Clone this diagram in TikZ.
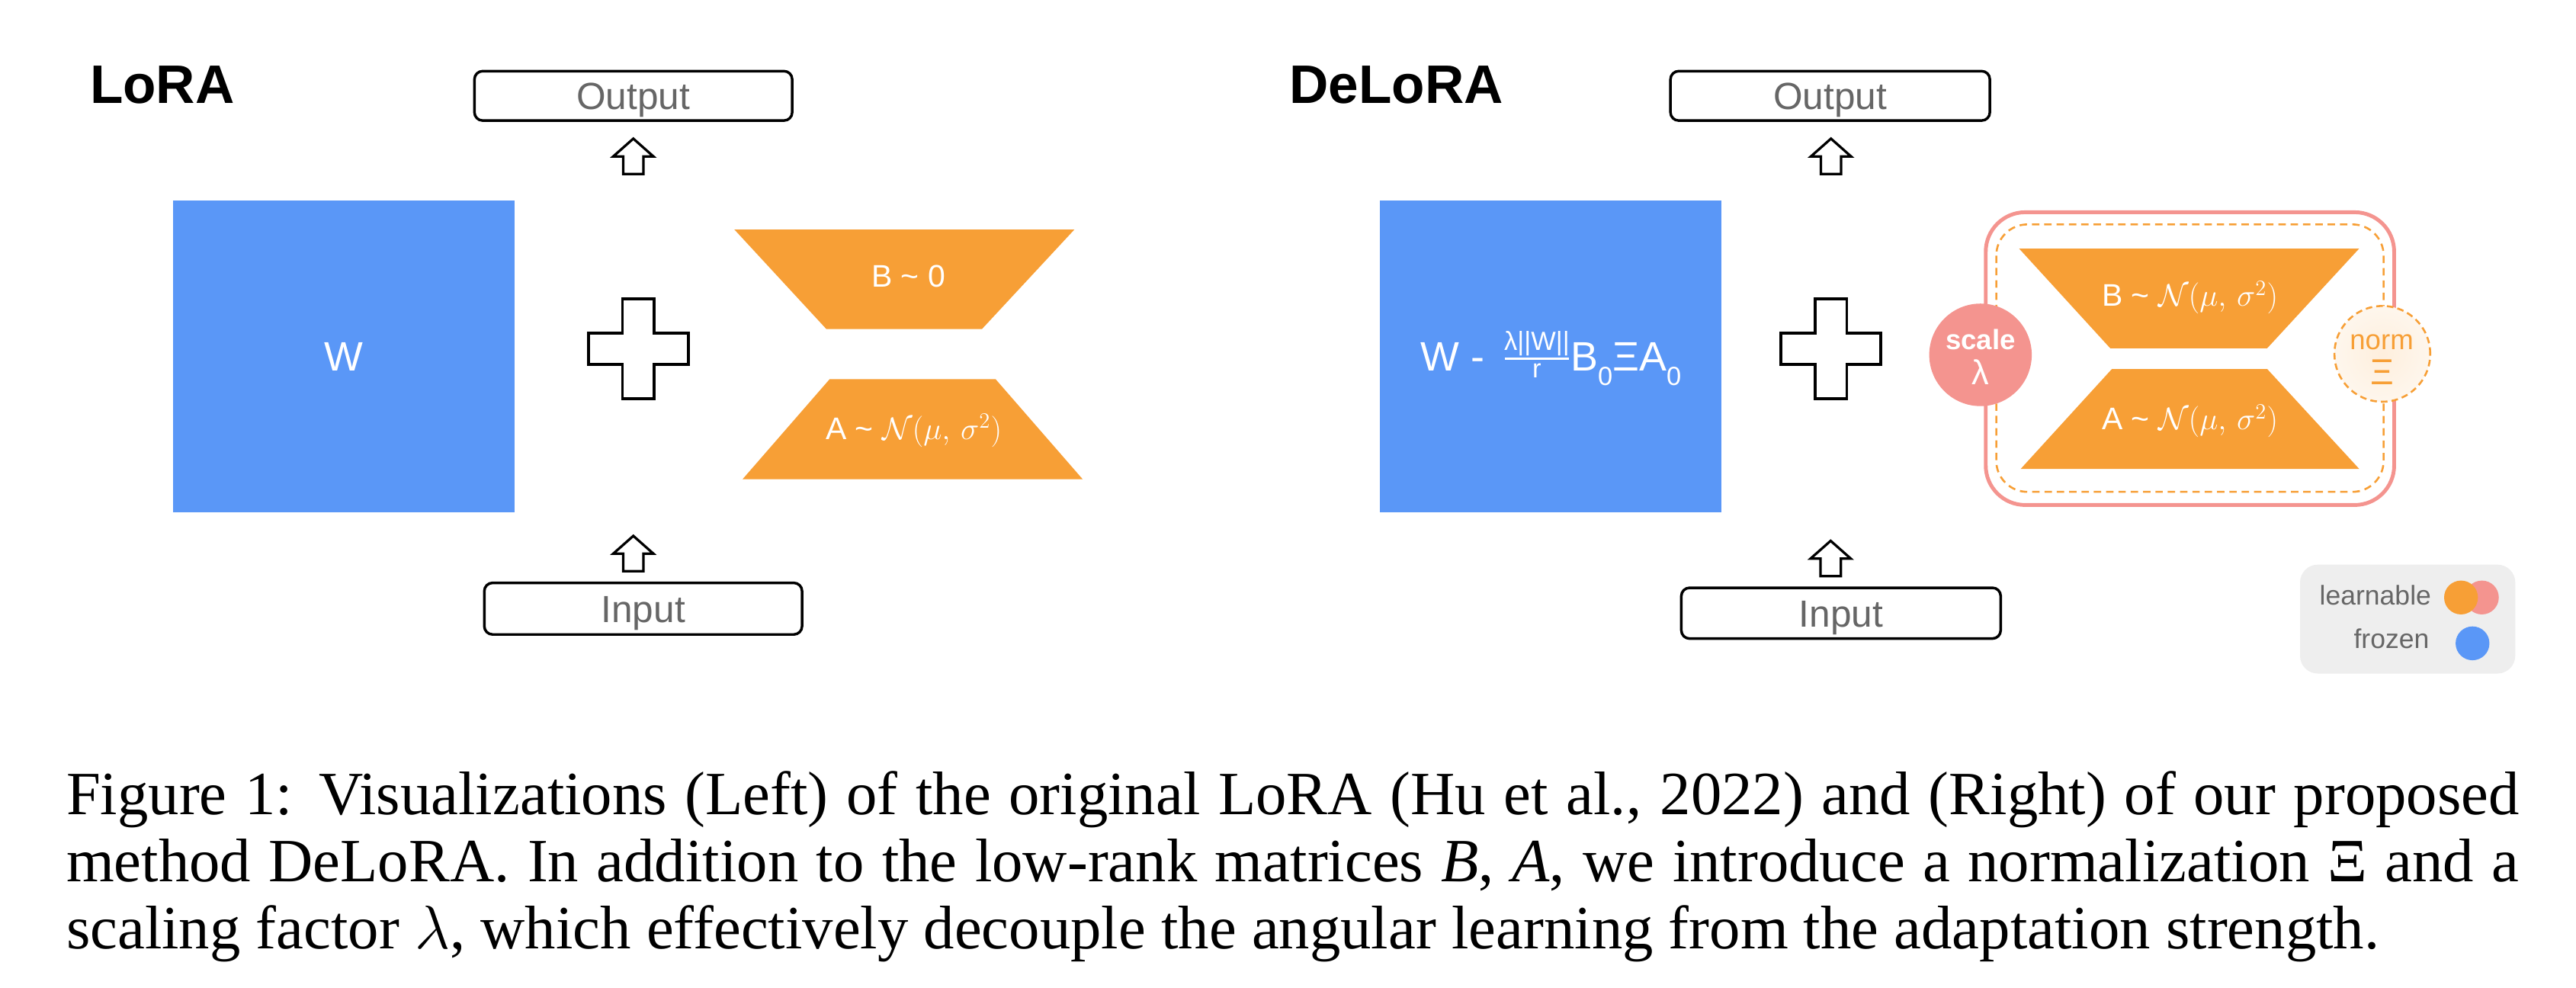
\RequirePackage{fix-cm}
\documentclass[tikz,border=0pt]{standalone}
\usepackage{fontspec}
\setmainfont{Liberation Serif}
\setsansfont{Liberation Sans}
\usetikzlibrary{calc}
\definecolor{wblue}{HTML}{5A97F7}
\definecolor{lorange}{HTML}{F79F36}
\definecolor{lpink}{HTML}{F4948F}
\definecolor{txtgray}{HTML}{666666}
\definecolor{leggray}{HTML}{EEEEEE}
\colorlet{glowA}{lorange!17!white}
\colorlet{glowB}{lorange!8!white}
\pgfdeclareradialshading{normglow}{\pgfpoint{0bp}{0bp}}{color(0bp)=(glowA); color(28bp)=(glowB); color(46bp)=(white); color(50bp)=(white)}
\newcommand\fsz[1]{\fontsize{#1}{#1}\selectfont}
\newcommand\mysub{\raisebox{-8.8pt}{\fsz{16}0}}
\begin{document}
\begin{tikzpicture}[x=1pt,y=-1pt,
  iobox/.style={draw=black, line width=1.6pt, rounded corners=5pt, fill=white, inner sep=0pt,
    text=txtgray, font=\sffamily\fsz{23}, text height=16.5pt, text depth=0pt},
  mat/.style={fill=wblue, inner sep=0pt, text=white, font=\sffamily\fsz{25}, text height=17.9pt, text depth=0pt},
  lbl/.style={inner sep=0pt, text=white, font=\sffamily\fsz{19}, text height=13.6pt, text depth=0pt},
  title/.style={inner sep=0pt, anchor=base west, font=\sffamily\bfseries\fsz{33}},
  trap/.style={fill=lorange},
  legtxt/.style={inner sep=0pt, anchor=base east, text=txtgray, font=\sffamily\fsz{16.5}},
  captxt/.style={inner sep=0pt, anchor=base west, font=\rmfamily\fsz{37.45}},
  dot/.style={circle, inner sep=0pt, minimum size=20.6pt},
  uparr/.pic={\draw[line width=1.5pt, fill=white, line join=miter]
     (0,0) -- (12.2,10.8) -- (6.2,10.8) -- (6.2,21.5) -- (-6.2,21.5) -- (-6.2,10.8) -- (-12.2,10.8) -- cycle;},
  plus/.pic={\draw[line width=1.8pt, fill=white, line join=miter]
     (-9.6,-30.4) -- (9.6,-30.4) -- (9.6,-9.6) -- (30.4,-9.6) -- (30.4,9.6) -- (9.6,9.6) -- (9.6,30.4)
     -- (-9.6,30.4) -- (-9.6,9.6) -- (-30.4,9.6) -- (-30.4,-9.6) -- (-9.6,-9.6) -- cycle;}
]
\useasboundingbox (0,0) rectangle (1568,601);

% ---------------- LoRA (left) ----------------
\node[title] (tL) at (54.6,62.7) {LoRA};
\node[iobox, minimum width=193.4pt, minimum height=30.1pt] (outL) at (385.5,58.35) {Output};
\node[mat, minimum width=207.5pt, minimum height=190pt] (WL) at (209.25,217) {W};
\node[iobox, minimum width=193.4pt, minimum height=31.4pt] (inL) at (391.5,370.5) {Input};
\pic at ($(outL.south)+(0,10.2)$) {uparr};
\pic at ($(inL.north)+(-6,-27.8)$) {uparr};
\pic at (388.5,212.3) {plus};
\fill[trap] (447,139.7) -- (654,139.7) -- (597.7,200.3) -- (503,200.3) -- cycle;
\fill[trap] (505,230.8) -- (606,230.8) -- (659,291.7) -- (452,291.7) -- cycle;
\node[lbl] (bL) at (553,168) {B \textasciitilde{} 0};
\node[lbl] (aL) at (556.2,260.6) {A \textasciitilde{} $\mathcal{N}(\mu,\,\sigma^2)$};

% ---------------- DeLoRA (right) ----------------
\node[title] (tR) at (784.6,62.7) {DeLoRA};
\node[iobox, minimum width=194.4pt, minimum height=30.1pt] (outR) at (1114,58.35) {Output};
\node[mat, minimum width=208pt, minimum height=190pt] (WR) at (944,217)
  {W - \hspace{5.5pt}{\fsz{16}\makebox[0pt][l]{\raisebox{12.8pt}{\makebox[39pt][c]{λ||W||}}}\makebox[0pt][l]{\raisebox{7.1pt}{\rule{39pt}{1pt}}}\makebox[39pt][c]{\raisebox{-4.1pt}{r}}}\hspace{1pt}B\mysub ΞA\mysub};
\node[iobox, minimum width=194.4pt, minimum height=30.9pt] (inR) at (1120.6,373.25) {Input};
\pic at ($(outR.south)+(0.5,10.2)$) {uparr};
\pic at ($(inR.north)+(-6.3,-27.8)$) {uparr};
\pic at (1114.5,212.2) {plus};

\draw[lpink, line width=2.3pt, rounded corners=24pt] (1208.7,129.2) rectangle (1457.3,307.4);
\draw[lorange, line width=1.2pt, dash pattern=on 4.5pt off 3pt, rounded corners=19pt] (1215.1,136.6) rectangle (1450.9,299.4);
\fill[trap] (1229,151.3) -- (1436,151.3) -- (1380,212) -- (1284.5,212) -- cycle;
\fill[trap] (1285.5,224.6) -- (1380,224.6) -- (1436,285.4) -- (1230,285.4) -- cycle;
\node[lbl] (bR) at (1333,179.7) {B \textasciitilde{} $\mathcal{N}(\mu,\,\sigma^2)$};
\node[lbl] (aR) at (1333,254.9) {A \textasciitilde{} $\mathcal{N}(\mu,\,\sigma^2)$};

\node[circle, fill=lpink, minimum size=62.4pt, inner sep=0pt] (scl) at (1205.5,216) {};
\node[inner sep=0pt, anchor=base, text=white, font=\sffamily\bfseries\fsz{17}] (sclt) at (1205.5,212.7) {scale};
\node[inner sep=0pt, anchor=base, text=white, font=\sffamily\fsz{21}] (lam) at (1205.3,234.3) {λ};

\node[circle, draw=lorange, line width=1.2pt, dash pattern=on 4pt off 2.5pt, shade, shading=normglow,
  minimum size=58.3pt, inner sep=0pt] (nrm) at (1450.1,215.4) {};
\node[inner sep=0pt, anchor=base, text=lorange, font=\sffamily\fsz{17}] (nrmt) at (1449.7,212.7) {norm};
\node[inner sep=0pt, anchor=base, text=lorange, font=\sffamily\fsz{22}] (xi) at (1450,234.3) {Ξ};

% ---------------- legend ----------------
\node[fill=leggray, rounded corners=10.8pt, minimum width=131pt, minimum height=66.3pt, inner sep=0pt] (leg) at (1465.5,376.85) {};
\node[legtxt] (lrn) at (1480,368) {learnable};
\node[legtxt] (frz) at (1478.8,394.7) {frozen};
\node[dot, fill=lpink] (dpk) at (1510.7,363.7) {};
\node[dot, fill=lorange] (dor) at (1498,363.7) {};
\node[dot, fill=wblue] (dbl) at (1505,391.6) {};

% ---------------- caption ----------------
\node[captxt] (c1) at (40.2,495.7) {\makebox[1493pt][s]{Figure 1: Visualizations (Left) of the original LoRA (Hu et al., 2022) and (Right) of our proposed}};
\node[captxt] (c2) at (40.2,536.7) {\makebox[1493pt][s]{method DeLoRA. In addition to the low-rank matrices \textit{B}, \textit{A}, we introduce a normalization Ξ and a}};
\node[captxt] (c3) at (40.2,577.7) {scaling factor $\lambda$, which effectively decouple the angular learning from the adaptation strength.};
\end{tikzpicture}
\end{document}
